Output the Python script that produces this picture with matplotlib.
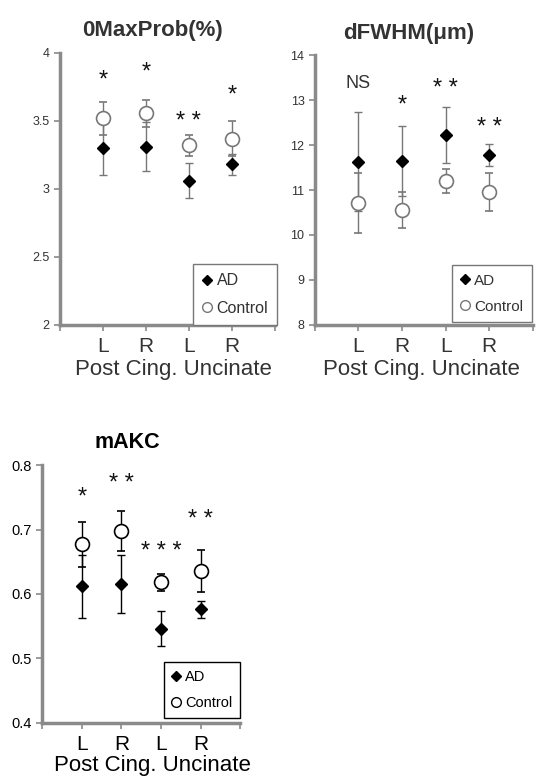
import numpy as np
import matplotlib
matplotlib.use("Agg")
import matplotlib.pyplot as plt
from matplotlib.lines import Line2D

plt.rcParams['font.family'] = ['Liberation Sans', 'DejaVu Sans']

# categories
x_pos = [1, 2, 3, 4]
x_labels = ['L', 'R', 'L', 'R']
group_label = 'Post Cing. Uncinate'

# 0MaxProb(%)
maxprob_ad = [3.30, 3.31, 3.06, 3.18]
maxprob_ad_err = [0.20, 0.18, 0.13, 0.075]
maxprob_ctrl = [3.52, 3.555, 3.32, 3.37]
maxprob_ctrl_err = [0.12, 0.10, 0.08, 0.13]
maxprob_sig = ['*', '*', '* *', '*']
maxprob_sig_y = [3.84, 3.90, 3.53, 3.73]

# dFWHM(um)
fwhm_ad = [11.635, 11.64, 12.23, 11.78]
fwhm_ad_err = [1.1, 0.78, 0.63, 0.24]
fwhm_ctrl = [10.71, 10.55, 11.20, 10.95]
fwhm_ctrl_err = [0.66, 0.40, 0.26, 0.42]
fwhm_sig = ['NS', '*', '* *', '* *']
fwhm_sig_y = [13.38, 13.0, 13.38, 12.5]

# mAKC
makc_ad = [0.612, 0.615, 0.546, 0.576]
makc_ad_err = [0.049, 0.045, 0.027, 0.013]
makc_ctrl = [0.677, 0.697, 0.618, 0.636]
makc_ctrl_err = [0.035, 0.031, 0.013, 0.033]
makc_sig = ['*', '* *', '* * *', '* *']
makc_sig_y = [0.759, 0.779, 0.674, 0.723]


def panel(ax, title, ad, ad_err, ctrl, ctrl_err, sig, sig_y, ylim, yticks, ytick_labels,
          line_col, text_col, tick_fs, leg_anchor, leg_fs, group_x):
    ax.errorbar(x_pos, ad, yerr=ad_err, fmt='D', color='black', ms=6.5,
                ecolor=line_col, elinewidth=1.0, capsize=3, capthick=1.0, zorder=3)
    ax.errorbar(x_pos, ctrl, yerr=ctrl_err, fmt='o', mfc='white', mec=line_col, ms=10,
                mew=1.2, ecolor=line_col, elinewidth=1.0, capsize=3, capthick=1.0, zorder=4)
    for x, s, y in zip(x_pos, sig, sig_y):
        if s == 'NS':
            ax.text(x, y, s, ha='center', va='center', fontsize=13, color=text_col)
        else:
            ax.annotate(s, (x, y), xytext=(0, -4), textcoords='offset points',
                        ha='center', va='center', fontsize=17, color='#111111')
    ax.set_xlim(0, 5)
    ax.set_ylim(*ylim)
    ax.set_yticks(yticks)
    ax.set_yticklabels(ytick_labels, fontsize=tick_fs, color=text_col)
    ax.set_xticks([0, 1, 2, 3, 4, 5])
    ax.set_xticklabels([''] + x_labels + [''], fontsize=15, color=text_col)
    ax.text(group_x, -0.165, group_label, transform=ax.get_xaxis_transform(),
            ha='center', va='center', fontsize=16, color=text_col)
    ax.set_title(title, fontsize=15.5 if title == 'mAKC' else 16, fontweight='bold',
                 color=text_col, pad=12, x=0.43)
    for sp in ['top', 'right']:
        ax.spines[sp].set_visible(False)
    for sp in ['left', 'bottom']:
        ax.spines[sp].set_color('#8a8a8a')
        ax.spines[sp].set_linewidth(2.5)
    ax.tick_params(axis='both', color='#8a8a8a', width=1.2, length=4)
    ax.tick_params(axis='x', pad=5)
    handles = [Line2D([], [], ls='none', marker='D', color='black', ms=5),
               Line2D([], [], ls='none', marker='o', mfc='white', mec=line_col, ms=7, mew=1.0)]
    leg = ax.legend(handles, ['AD', 'Control'], loc='lower right', bbox_to_anchor=leg_anchor,
                    fontsize=leg_fs, handlelength=0.6, handletextpad=0.3,
                    borderpad=0.55, borderaxespad=0.0, labelspacing=0.8,
                    fancybox=False, framealpha=1)
    leg.get_frame().set_edgecolor(line_col)
    for t in leg.get_texts():
        t.set_color(text_col)


fig = plt.figure(figsize=(5.41, 7.79), dpi=100)

ax1 = fig.add_axes([0.111, 0.583, 0.397, 0.349])
panel(ax1, '0MaxProb(%)', maxprob_ad, maxprob_ad_err, maxprob_ctrl, maxprob_ctrl_err,
      maxprob_sig, maxprob_sig_y, (2, 4), [2, 2.5, 3, 3.5, 4], ['2', '2.5', '3', '3.5', '4'],
      '#777777', '#333333', 9, (1.01, 0.0), 11.5, 2.65)

ax2 = fig.add_axes([0.582, 0.583, 0.403, 0.346])
panel(ax2, 'dFWHM(\u03bcm)', fwhm_ad, fwhm_ad_err, fwhm_ctrl, fwhm_ctrl_err,
      fwhm_sig, fwhm_sig_y, (8, 14), [8, 9, 10, 11, 12, 13, 14],
      ['8', '9', '10', '11', '12', '13', '14'],
      '#777777', '#333333', 9, (0.995, 0.01), 11, 2.45)

ax3 = fig.add_axes([0.078, 0.072, 0.366, 0.331])
panel(ax3, 'mAKC', makc_ad, makc_ad_err, makc_ctrl, makc_ctrl_err,
      makc_sig, makc_sig_y, (0.4, 0.8), [0.4, 0.5, 0.6, 0.7, 0.8],
      ['0.4', '0.5', '0.6', '0.7', '0.8'],
      'black', 'black', 10.5, (1.0, 0.02), 10.5, 2.78)

fig.savefig('out.png', dpi=100)
